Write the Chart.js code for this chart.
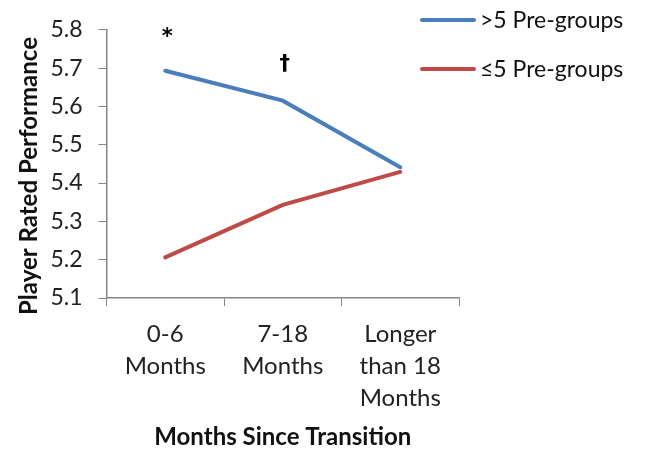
<!DOCTYPE html>
<html>
<head>
<meta charset="utf-8">
<script src="https://cdn.jsdelivr.net/npm/chart.js@4.4.1/dist/chart.umd.min.js"></script>
<style>
  html, body { margin: 0; padding: 0; background: #fff; }
  #wrap { width: 647px; height: 450px; }
</style>
</head>
<body>
<div id="wrap"><canvas id="c" width="647" height="450"></canvas></div>
<script>
// Categories and series
const categories = [['0-6', 'Months'], ['7-18', 'Months'], ['Longer', 'than 18', 'Months']];
const moreGroups = [5.693, 5.615, 5.441];
const fewGroups = [5.206, 5.343, 5.429];
const seriesNames = ['>5 Pre-groups', '\u22645 Pre-groups'];
const yTicks = [5.1, 5.2, 5.3, 5.4, 5.5, 5.6, 5.7, 5.8];
const yTitle = 'Player Rated Performance';
const xTitle = 'Months Since Transition';
// Significance markers: [category index, value, symbol]
const markers = [[0, 5.78, '*'], [1, 5.71, '\u2020']];

const FONT = 'Lato, "Open Sans", sans-serif';
const AXIS = '#868686';
const BLUE = '#4a7ebb';
const RED = '#be4b48';

const markerPlugin = {
  id: 'markers',
  afterDatasetsDraw(chart) {
    const { ctx, scales: { x, y } } = chart;
    ctx.save();
    ctx.fillStyle = '#000';
    ctx.font = 'bold 21px "DejaVu Sans", sans-serif';
    ctx.textAlign = 'center';
    ctx.textBaseline = 'middle';
    markers.forEach(([i, v, s]) => {
      ctx.fillText(s, x.getPixelForValue(i) + 2, y.getPixelForValue(v));
    });
    ctx.restore();
  }
};

// Vertical axis title, centred on the label column
const yTitlePlugin = {
  id: 'yTitle',
  afterDraw(chart) {
    const { ctx } = chart;
    ctx.save();
    ctx.translate(29, 176);
    ctx.rotate(-Math.PI / 2);
    ctx.font = 'bold 24px ' + FONT;
    ctx.fillStyle = '#111';
    ctx.textAlign = 'center';
    ctx.textBaseline = 'middle';
    ctx.fillText(yTitle, 0, 0);
    ctx.restore();
  }
};

const legendPlugin = {
  id: 'sideLegend',
  afterDraw(chart) {
    const { ctx } = chart;
    ctx.save();
    ctx.font = '23px ' + FONT;
    ctx.textBaseline = 'middle';
    ctx.textAlign = 'left';
    chart.data.datasets.forEach((ds, i) => {
      const yy = 20 + i * 49;
      ctx.strokeStyle = ds.borderColor;
      ctx.lineWidth = 4;
      ctx.lineCap = 'round';
      ctx.beginPath();
      ctx.moveTo(422, yy);
      ctx.lineTo(474, yy);
      ctx.stroke();
      ctx.fillStyle = '#111';
      ctx.fillText(ds.label, 480, yy + 1);
    });
    ctx.restore();
  }
};

new Chart(document.getElementById('c'), {
  type: 'line',
  data: {
    labels: categories,
    datasets: [
      { label: seriesNames[0], data: moreGroups, borderColor: BLUE, backgroundColor: BLUE },
      { label: seriesNames[1], data: fewGroups, borderColor: RED, backgroundColor: RED }
    ]
  },
  options: {
    responsive: false,
    animation: false,
    layout: { padding: { top: 26, right: 188, left: 14, bottom: 0 } },
    elements: {
      line: { borderWidth: 4, tension: 0, borderCapStyle: 'round' },
      point: { radius: 0, hoverRadius: 0 }
    },
    plugins: { legend: { display: false }, tooltip: { enabled: false } },
    scales: {
      x: {
        type: 'category',
        offset: true,
        grid: { display: true, offset: true, drawOnChartArea: false, drawTicks: true, tickLength: 8, color: AXIS, lineWidth: 1 },
        border: { display: true, color: AXIS, width: 1.5 },
        ticks: { color: '#222', font: { family: FONT, size: 24, lineHeight: 1.34 }, padding: 12, maxRotation: 0, autoSkip: false },
        title: { display: true, text: xTitle, color: '#111', font: { family: FONT, size: 24, weight: 'bold' }, padding: { top: 4, bottom: -2 } },
        afterFit(scale) { scale.height = 152; }
      },
      y: {
        min: 5.1,
        max: 5.8,
        afterBuildTicks(scale) { scale.ticks = yTicks.map(v => ({ value: v })); },
        grid: { display: true, drawOnChartArea: false, drawTicks: true, tickLength: 8, color: AXIS, lineWidth: 1 },
        border: { display: true, color: AXIS, width: 1.5 },
        ticks: { color: '#222', font: { family: FONT, size: 23 }, padding: 16, callback: v => Number(v).toFixed(1) },
        title: { display: false },
        afterFit(scale) { scale.width = 92.5; }
      }
    }
  },
  plugins: [markerPlugin, yTitlePlugin, legendPlugin]
});
</script>
</body>
</html>
